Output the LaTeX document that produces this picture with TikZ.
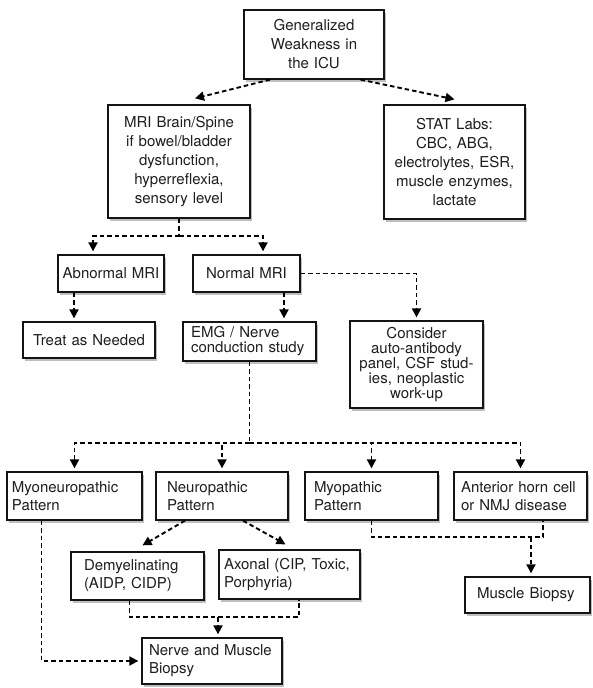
\documentclass[tikz,border=0pt]{standalone}
\usepackage{fontspec}
\setmainfont{TeX Gyre Heros}
\usepackage{tikz}
\usetikzlibrary{arrows.meta,shadows}
\definecolor{icuInk}{HTML}{1E1E1E}
\definecolor{icuLine}{HTML}{141414}
\tikzset{
  icu diagram/.style={x=1pt, y=-1pt, font=\fontsize{15}{18}\selectfont,
    text=icuInk, line join=miter},
  icu box/.style={draw=icuLine, fill=white, line width=1.3pt, align=center,
    inner xsep=5pt, inner ysep=0pt,
    drop shadow={shadow xshift=2pt, shadow yshift=-2.5pt, fill=black, opacity=0.25}},
  icu left/.style={icu box, align=left},
  icu link/.style={draw=black, line width=1.9pt, dash pattern=on 4.5pt off 3pt},
  icu tip/.style={-{Triangle[length=9pt,width=9pt]}},
  icu arrow/.style={icu link, icu tip, shorten >=3pt}
}
\begin{document}
\begin{tikzpicture}[icu diagram]
\useasboundingbox (0,0) rectangle (592,688);
% top of the tree
\node[icu box, text width=130pt, minimum height=69pt, font=\fontsize{15}{19}\selectfont] (icu) at (314,44.5) {Generalized\\Weakness in\\the ICU};
\node[icu box, text width=132pt, minimum height=113pt, font=\fontsize{15}{19}\selectfont] (mri) at (179,161.5) {MRI Brain/Spine\\if bowel/bladder\\dysfunction,\\hyperreflexia,\\sensory level};
\node[icu box, text width=131pt, minimum height=114pt, font=\fontsize{15}{19}\selectfont] (stat) at (454.5,162) {STAT Labs:\\CBC, ABG,\\electrolytes, ESR,\\muscle enzymes,\\lactate};
\draw[icu link, icu tip] ([xshift=-44pt]icu.south) -- ([xshift=16pt,yshift=6pt]mri.north);
\draw[icu link, icu tip] ([xshift=-24pt]icu.south east) -- ([yshift=5pt]stat.north);
% MRI result
\node[icu box, inner xsep=1pt, text width=104pt, minimum height=37pt] (abn) at (111,273.5) {Abnormal MRI};
\node[icu box, text width=97pt, minimum height=37pt] (norm) at (246.5,273.5) {Normal MRI};
\node[icu box, text width=122pt, minimum height=36pt] (treat) at (89,340) {Treat as Needed};
\node[icu left, inner xsep=8pt, text width=117pt, minimum height=39pt, font=\fontsize{15}{15}\selectfont] (emg) at (249.5,341.5) {EMG / Nerve\\conduction study};
\node[icu box, text width=123pt, minimum height=87pt, font=\fontsize{15}{15}\selectfont] (cons) at (416.5,364.5) {Consider\\auto-antibody\\panel, CSF stud-\\ies, neoplastic\\work-up};
\draw[icu link] (mri.south) -- ++(0,17) coordinate (split1);
\draw[icu arrow] (split1) -| ([xshift=-18pt]abn.north);
\draw[icu arrow] (split1) -| ([xshift=16.5pt]norm.north);
\draw[icu arrow] ([xshift=-37pt]abn.south) -- ([xshift=-37pt]abn.south |- treat.north);
\draw[icu arrow] ([xshift=37.5pt]norm.south) -- ([xshift=37.5pt]norm.south |- emg.north);
\draw[icu arrow] (norm.east) -| (cons.north);
% EMG patterns
\node[icu left, text width=125pt, minimum height=48pt] (myoneuro) at (74.5,496) {Myoneuropathic\\Pattern};
\node[icu left, inner xsep=11pt, text width=110pt, minimum height=48pt] (neuro) at (222,496) {Neuropathic\\Pattern};
\node[icu left, inner xsep=9pt, text width=115pt, minimum height=48pt] (myo) at (371.5,496) {Myopathic\\Pattern};
\node[icu left, inner xsep=7pt, text width=119pt, minimum height=48pt] (ant) at (520.5,496) {Anterior horn cell\\or NMJ disease};
\draw[icu link] (emg.south) -- ++(0,81) coordinate (split2);
\foreach \n in {myoneuro,neuro,myo,ant}
  \draw[icu arrow] (split2) -| (\n.north);
% neuropathic branch
\node[icu left, inner xsep=13pt, text width=107pt, minimum height=48pt] (demy) at (137.5,576) {Demyelinating\\(AIDP, CIDP)};
\node[icu left, inner xsep=5pt, text width=131pt, minimum height=49pt] (axon) at (289.5,574.5) {Axonal (CIP, Toxic,\\Porphyria)};
\draw[icu link, icu tip] ([xshift=-37pt]neuro.south) -- ([xshift=5pt,yshift=6pt]demy.north);
\draw[icu link, icu tip] ([xshift=21pt]neuro.south) -- ([xshift=-4pt,yshift=5pt]axon.north);
% biopsies
\node[icu left, inner xsep=7pt, text width=126pt, minimum height=46pt] (nerve) at (212,661) {Nerve and Muscle\\Biopsy};
\node[icu left, inner xsep=12pt, text width=101pt, minimum height=36pt] (musc) at (527.5,595) {Muscle Biopsy};
\coordinate (join1) at (218,617);
\draw[icu link] ([xshift=-8pt]demy.south) |- (join1) -| ([xshift=9.5pt]axon.south);
\draw[icu arrow] (join1) -- (join1 |- nerve.north);
\draw[icu arrow] ([xshift=-33pt]myoneuro.south) |- (nerve.west);
\coordinate (join2) at (531,537);
\draw[icu link] (myo.south) |- (join2) -| ([xshift=22.5pt]ant.south);
\draw[icu arrow] (join2) -- (join2 |- musc.north);
\end{tikzpicture}
\end{document}
